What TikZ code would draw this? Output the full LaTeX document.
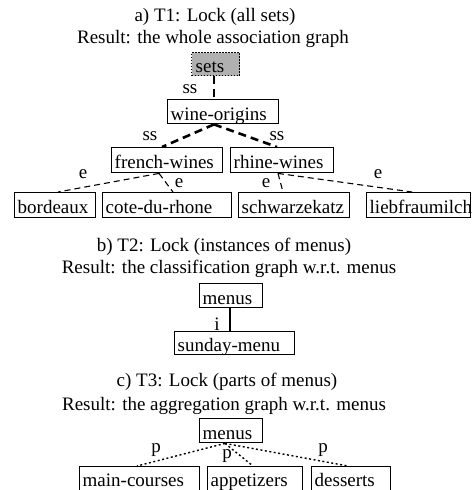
\documentclass[tikz,border=0pt]{standalone}
\usepackage{fontspec}
\setmainfont{Liberation Serif}
\begin{document}
\begin{tikzpicture}[x=1pt,y=-1pt,
  every node/.style={font=\fontsize{19}{22}\selectfont, inner sep=0pt},
  bx/.style={draw, line width=1.4pt, anchor=north west, inner xsep=3pt, inner ysep=0pt,
    text height=19pt, text depth=2pt, minimum height=24pt, align=left, text width=#1},
  lowbx/.style={text height=17pt, text depth=4pt, minimum height=26pt},
  lbl/.style={anchor=base},
  ttl/.style={anchor=base},
  ssedge/.style={line width=2.6pt, dash pattern=on 8pt off 5pt},
  eedge/.style={line width=1.1pt, dash pattern=on 6pt off 4pt},
  iedge/.style={line width=1.4pt},
  pedge/.style={line width=1.4pt, dash pattern=on 2pt off 2.5pt}]
\useasboundingbox (0,0) rectangle (476,490);
% titles
\node[ttl] (ta1) at (215,21) {a) T1: Lock (all sets)};
\node[ttl] (ta2) at (213,43) {Result: the whole association graph};
\node[ttl] (tb1) at (224,251) {b) T2: Lock (instances of menus)};
\node[ttl] (tb2) at (229,273) {Result: the classification graph w.r.t. menus};
\node[ttl] (tc1) at (227,386) {c) T3: Lock (parts of menus)};
\node[ttl] (tc2) at (224,410) {Result: the aggregation graph w.r.t. menus};
% a) boxes
\node[bx=40pt, minimum height=23pt, fill=black!31, dash pattern=on 1.5pt off 1.5pt, inner xsep=4pt] (sets) at (191,52) {sets};
\node[bx=105pt] (wo) at (167,99) {wine-origins};
\node[bx=105pt, minimum height=25pt] (fw) at (111,147) {french-wines};
\node[bx=97pt, minimum height=25pt] (rw) at (230,147) {rhine-wines};
\node[bx=75pt, minimum height=25pt] (bd) at (14,192) {bordeaux};
\node[bx=123pt, minimum height=25pt] (cdr) at (102,192) {cote-du-rhone};
\node[bx=105pt, minimum height=25pt] (sk) at (238,192) {schwarzekatz};
\node[bx=98pt, minimum height=25pt] (lm) at (366,192) {liebfraumilch};
% a) edges
\draw[ssedge] ([xshift=23pt]sets.south west) -- ([xshift=47pt]wo.north west);
\draw[ssedge] ([xshift=47pt]wo.south west) -- ([xshift=51pt]fw.north west);
\draw[ssedge] ([xshift=47pt]wo.south west) -- ([xshift=47pt]rw.north west);
\draw[eedge] ([xshift=48pt]fw.south west) -- ([xshift=44pt]bd.north west);
\draw[eedge] ([xshift=48pt]fw.south west) -- ([xshift=71pt]cdr.north west);
\draw[eedge] ([xshift=48pt]rw.south west) -- ([xshift=45pt]sk.north west);
\draw[eedge] ([xshift=48pt]rw.south west) -- ([xshift=46pt]lm.north west);
\node[lbl] (l1) at (190,93) {ss};
\node[lbl] (l2) at (150,140) {ss};
\node[lbl] (l3) at (277,140) {ss};
\node[lbl] (l4) at (83,178) {e};
\node[lbl] (l5) at (179,187) {e};
\node[lbl] (l6) at (266,187) {e};
\node[lbl] (l7) at (378,178) {e};
% b)
\node[bx=57pt] (mb) at (199,283) {menus};
\node[bx=114pt, minimum height=23pt] (sm) at (174,331) {sunday-menu};
\draw[iedge] ([xshift=31pt]mb.south west) -- ([xshift=56pt]sm.north west);
\node[lbl] (l8) at (217,330) {i};
% c)
\node[bx=57pt] (mc) at (199,418) {menus};
\node[bx=114pt, lowbx] (mco) at (79,466) {main-courses};
\node[bx=89pt, lowbx] (ap) at (207,466) {appetizers};
\node[bx=73pt, lowbx] (ds) at (311,466) {desserts};
\draw[pedge] ([xshift=26pt]mc.south west) -- ([xshift=58pt]mco.north west);
\draw[pedge] ([xshift=26pt]mc.south west) -- ([xshift=46pt]ap.north west);
\draw[pedge] ([xshift=26pt]mc.south west) -- ([xshift=37pt]ds.north west);
\node[lbl] (l9) at (156,452) {p};
\node[lbl] (l10) at (227,458) {p};
\node[lbl] (l11) at (323,452) {p};
\end{tikzpicture}
\end{document}
